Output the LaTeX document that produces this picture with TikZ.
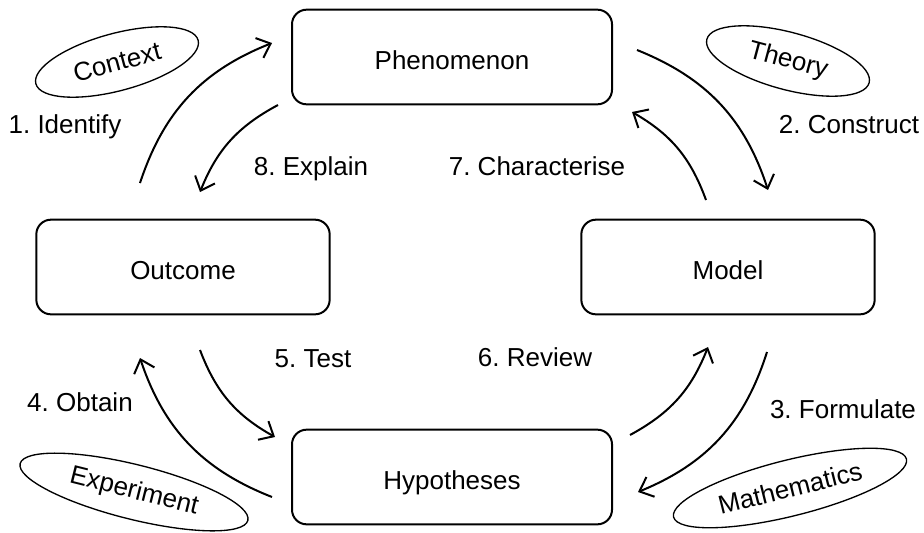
\documentclass[tikz,border=0pt]{standalone}
\usepackage{fontspec}
\setmainfont{Liberation Sans}
\usetikzlibrary{arrows.meta,shapes.geometric}
\frenchspacing

\begin{document}
\begin{tikzpicture}[x=0.75pt, y=-0.75pt, font=\fontsize{19.5}{23}\selectfont,
	stage/.style={draw, line width=1.5pt, rounded corners=11pt, minimum height=71pt, text height=19pt, text depth=0pt},
	lens/.style={draw, ellipse, line width=1pt, inner sep=0pt},
	lbl/.style={anchor=base},
	cyc/.style={-{Straight Barb[length=9pt,width=16pt]}, line width=1.5pt}]
	\useasboundingbox (0, 0) rectangle (924, 532);
	% Stages:
	\node[stage, minimum width=240pt](phen) at (452, 57){Phenomenon};
	\node[stage, minimum width=220pt](outc) at (183, 267){Outcome};
	\node[stage, minimum width=220pt](modl) at (728, 267){Model};
	\node[stage, minimum width=240pt](hypo) at (452, 477){Hypotheses};
	% Fields:
	\node[lens, rotate=15, minimum width=126pt, minimum height=43pt](ctx) at (117, 62){Context};
	\node[lens, rotate=-15, minimum width=126pt, minimum height=43pt](thy) at (788, 61){Theory};
	\node[lens, rotate=-14, minimum width=176pt, minimum height=41pt](expt) at (134, 492){Experiment};
	\node[lens, rotate=14, minimum width=180pt, minimum height=42pt](math) at (790, 488){Mathematics};
	% Arrow ends:
	\coordinate (id1) at (140, 183); \coordinate (id2) at (272, 43);
	\coordinate (co1) at (637, 50);  \coordinate (co2) at (768, 190);
	\coordinate (fo1) at (767, 352); \coordinate (fo2) at (638, 492);
	\coordinate (ob1) at (272, 497); \coordinate (ob2) at (140, 358);
	\coordinate (te1) at (200, 350); \coordinate (te2) at (275, 437);
	\coordinate (re1) at (630, 435); \coordinate (re2) at (708, 347);
	\coordinate (ch1) at (706, 200); \coordinate (ch2) at (632, 112);
	\coordinate (ex1) at (278, 105); \coordinate (ex2) at (200, 192);
	% Cycle:
	\draw[cyc] (id1) to[bend left=25] (id2);
	\draw[cyc] (co1) to[bend left=25] (co2);
	\draw[cyc] (fo1) to[bend left=25] (fo2);
	\draw[cyc] (ob1) to[bend left=25] (ob2);
	\draw[cyc] (te1) to[bend right=20] (te2);
	\draw[cyc] (re1) to[bend right=20] (re2);
	\draw[cyc] (ch1) to[bend right=20] (ch2);
	\draw[cyc] (ex1) to[bend right=20] (ex2);
	% Labels:
	\node[lbl](l1) at (65, 133){1. Identify};
	\node[lbl](l2) at (849, 133){2. Construct};
	\node[lbl](l3) at (843, 418){3. Formulate};
	\node[lbl](l4) at (80, 411){4. Obtain};
	\node[lbl](l5) at (313, 367){5. Test};
	\node[lbl](l6) at (535, 366){6. Review};
	\node[lbl](l7) at (537, 175){7. Characterise};
	\node[lbl](l8) at (311, 175){8. Explain};
\end{tikzpicture}
\end{document}
